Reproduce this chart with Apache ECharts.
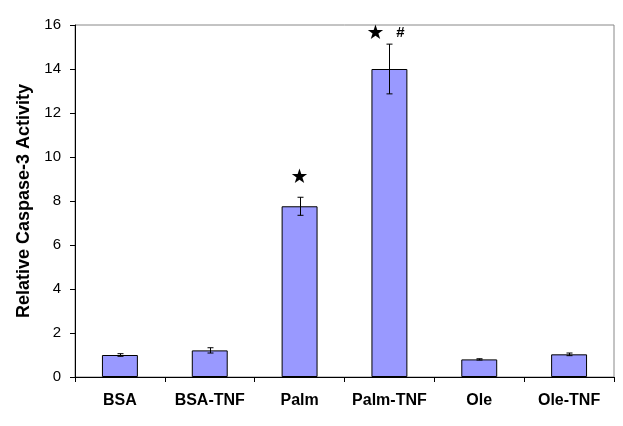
<!DOCTYPE html>
<html><head><meta charset="utf-8">
<script src="https://cdn.jsdelivr.net/npm/echarts@6/dist/echarts.min.js"></script>
<style>html,body{margin:0;padding:0;background:#fff}#c{width:623px;height:426px}</style>
</head><body><div id="c"></div>
<script>
const categories = ['BSA', 'BSA-TNF', 'Palm', 'Palm-TNF', 'Ole', 'Ole-TNF'];
const values = [1.0, 1.21, 7.76, 14.0, 0.80, 1.03];
const errors = [0.06, 0.12, 0.41, 1.13, 0.03, 0.06];
const yTicks = [0, 2, 4, 6, 8, 10, 12, 14, 16];
const annotations = [
  { cat: 2, y: 9.05, text: '★', dx: 0 },
  { cat: 3, y: 15.6, text: '★', dx: -14 },
  { cat: 3, y: 15.65, text: '#', dx: 11 }
];
const yTitle = 'Relative Caspase-3 Activity';

const chart = echarts.init(document.getElementById('c'), null, { renderer: 'canvas' });
const font = 'Arial, "Liberation Sans", sans-serif';
chart.setOption({
  animation: false,
  backgroundColor: '#fff',
  grid: { left: 75, right: 9, top: 25, bottom: 49, show: true, borderColor: '#888', borderWidth: 1, backgroundColor: 'transparent' },
  xAxis: {
    type: 'category', data: categories,
    axisLine: { lineStyle: { color: '#000', width: 1 } },
    axisTick: { show: true, alignWithLabel: false, length: 5, lineStyle: { color: '#000' } },
    axisLabel: { interval: 0, color: '#000', fontFamily: font, fontWeight: 'bold', fontSize: 16, margin: 16 },
    splitLine: { show: false }
  },
  yAxis: {
    type: 'value', min: yTicks[0], max: yTicks[yTicks.length - 1], interval: 2,
    name: yTitle, nameLocation: 'middle', nameGap: 42, nameRotate: 90,
    nameTextStyle: { color: '#000', fontFamily: font, fontWeight: 'bold', fontSize: 18 },
    axisLine: { show: true, lineStyle: { color: '#000', width: 1 } },
    axisTick: { show: true, length: 5, lineStyle: { color: '#000' } },
    axisLabel: { color: '#000', fontFamily: font, fontSize: 15, margin: 14 },
    splitLine: { show: false }
  },
  series: [
    {
      type: 'bar', data: values, barWidth: '40%',
      itemStyle: { color: '#9999ff', borderColor: '#000', borderWidth: 1 }
    },
    {
      type: 'custom', z: 10,
      data: values.map((v, i) => [i, v - errors[i], v + errors[i]]),
      renderItem: function (params, api) {
        const lo = api.coord([api.value(0), api.value(1)]);
        const hi = api.coord([api.value(0), api.value(2)]);
        const x = Math.round(lo[0]) + 0.5;
        const cw = 3;
        const st = { stroke: '#000', lineWidth: 1 };
        return { type: 'group', children: [
          { type: 'line', shape: { x1: x, y1: hi[1], x2: x, y2: lo[1] }, style: st },
          { type: 'line', shape: { x1: x - cw, y1: hi[1], x2: x + cw, y2: hi[1] }, style: st },
          { type: 'line', shape: { x1: x - cw, y1: lo[1], x2: x + cw, y2: lo[1] }, style: st }
        ] };
      }
    },
    {
      type: 'custom', z: 11,
      data: annotations.map(a => [a.cat, a.y, a.dx, a.text]),
      renderItem: function (params, api) {
        const a = annotations[params.dataIndex];
        const p = api.coord([a.cat, a.y]);
        return {
          type: 'text',
          style: {
            x: p[0] + a.dx, y: p[1], text: a.text,
            fill: '#000', align: 'center', verticalAlign: 'middle',
            font: a.text === '#' ? 'bold 15px ' + font : '20px "DejaVu Sans", sans-serif'
          }
        };
      }
    }
  ]
});
</script></body></html>
